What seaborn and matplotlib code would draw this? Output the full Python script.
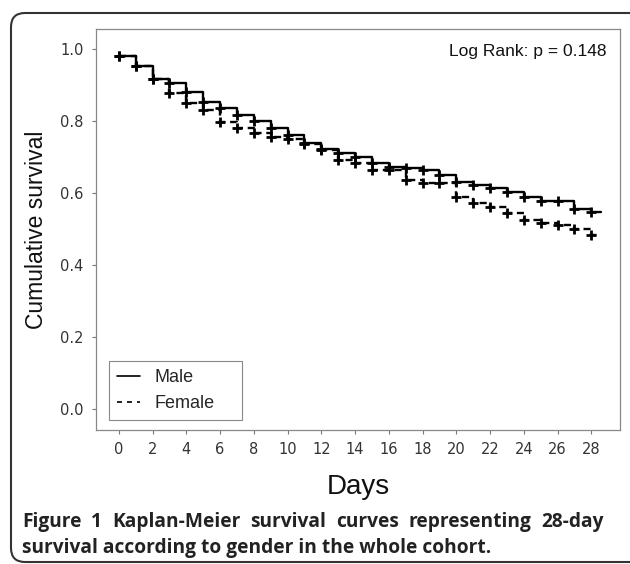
import pandas as pd
import matplotlib
matplotlib.use("Agg")
import matplotlib.pyplot as plt
import seaborn as sns
from matplotlib.lines import Line2D
from matplotlib.patches import FancyBboxPatch

# Kaplan-Meier estimates, one value per day (0..28)
days = list(range(29))
male_surv = [0.981, 0.953, 0.917, 0.906, 0.881, 0.853, 0.836, 0.817, 0.800, 0.781,
             0.761, 0.739, 0.722, 0.711, 0.700, 0.683, 0.672, 0.669, 0.664, 0.650,
             0.631, 0.622, 0.614, 0.603, 0.589, 0.578, 0.578, 0.556, 0.547]
female_surv = [0.981, 0.953, 0.917, 0.878, 0.850, 0.831, 0.797, 0.781, 0.767, 0.756,
               0.750, 0.737, 0.720, 0.692, 0.683, 0.664, 0.664, 0.636, 0.628, 0.628,
               0.589, 0.572, 0.561, 0.544, 0.525, 0.517, 0.511, 0.500, 0.483]
end_day = 28.6
groups = ["Male", "Female"]
x_ticks = list(range(0, 29, 2))
y_ticks = [0.0, 0.2, 0.4, 0.6, 0.8, 1.0]
log_rank_text = "Log Rank: p = 0.148"
caption_1 = "Figure 1 Kaplan-Meier survival curves representing 28-day"
caption_2 = "survival according to gender in the whole cohort."

sns.set_theme(style="white")
plt.rcParams["font.family"] = ["Liberation Sans", "DejaVu Sans"]

# long table for seaborn, last value held until end of follow-up
rows = []
for sex, surv in zip(groups, [male_surv, female_surv]):
    for d, s in zip(days + [end_day], surv + [surv[-1]]):
        rows.append({"day": d, "survival": s, "sex": sex})
df = pd.DataFrame(rows)
marks = df[df["day"] != end_day]

fig = plt.figure(figsize=(6.3, 5.64), dpi=100)
ax = fig.add_axes([96 / 630, 1 - 430 / 564, 524 / 630, 401 / 564])

sns.lineplot(data=df, x="day", y="survival", style="sex", style_order=groups,
             dashes={"Male": "", "Female": (3, 2)}, color="black", linewidth=1.7,
             drawstyle="steps-post", estimator=None, legend=False, ax=ax)
sns.scatterplot(data=marks, x="day", y="survival", marker="+", s=50,
                color="black", linewidth=2.0, legend=False, ax=ax)

ax.set_xlim(-1.35, 29.7)
ax.set_ylim(-0.058, 1.056)
ax.set_xticks(x_ticks)
ax.set_yticks(y_ticks)
ax.set_yticklabels([f"{v:.1f}" for v in y_ticks])
ax.tick_params(axis="both", direction="out", length=3, width=0.8, color="#777",
               labelsize=10.5, labelcolor="#333", pad=6, left=True, bottom=True)
for lab in ax.get_xticklabels() + ax.get_yticklabels():
    lab.set_family("DejaVu Sans")
for sp in ax.spines.values():
    sp.set_visible(True)
    sp.set_color("#888")
    sp.set_linewidth(0.9)

ax.set_ylabel("Cumulative survival", fontsize=16.5, color="#111", labelpad=9)
ax.set_xlabel("Days", fontsize=20, color="#111", labelpad=12)

ax.text(0.975, 0.945, log_rank_text, transform=ax.transAxes, ha="right",
        va="center", fontsize=12.5, color="#111")

handles = [Line2D([], [], color="black", lw=1.2, ls="-"),
           Line2D([], [], color="black", lw=1.2, ls=(0, (3, 3)))]
leg = ax.legend(handles, groups, loc="lower left",
                bbox_to_anchor=(0.025, 0.025, 0.254, 0.15), mode="expand",
                borderaxespad=0, fancybox=False, edgecolor="#888", framealpha=1,
                fontsize=13, handlelength=1.25, handletextpad=0.8,
                borderpad=0.45, labelspacing=0.5)
leg.get_frame().set_linewidth(0.8)

# rounded outer frame of the figure panel
frame = FancyBboxPatch((11, 2), 640, 549, boxstyle="round,pad=0,rounding_size=14",
                       transform=None, fill=False, ec="#333", lw=1.5)
fig.add_artist(frame)

cap_kw = dict(ha="left", va="center", fontsize=13.8, fontweight="bold",
              family="Open Sans", color="#222")

# first caption line is justified between the panel margins
words = caption_1.split()
texts = [fig.text(0, 1 - 522 / 564, w, **cap_kw) for w in words]
fig.canvas.draw()
renderer = fig.canvas.get_renderer()
widths = [t.get_window_extent(renderer).width for t in texts]
gap = (604 - 22 - sum(widths)) / (len(words) - 1)
x = 22
for t, w in zip(texts, widths):
    t.set_x(x / 630)
    x += w + gap

fig.text(22 / 630, 1 - 548 / 564, caption_2, **cap_kw)

fig.savefig("out.png", dpi=100)
